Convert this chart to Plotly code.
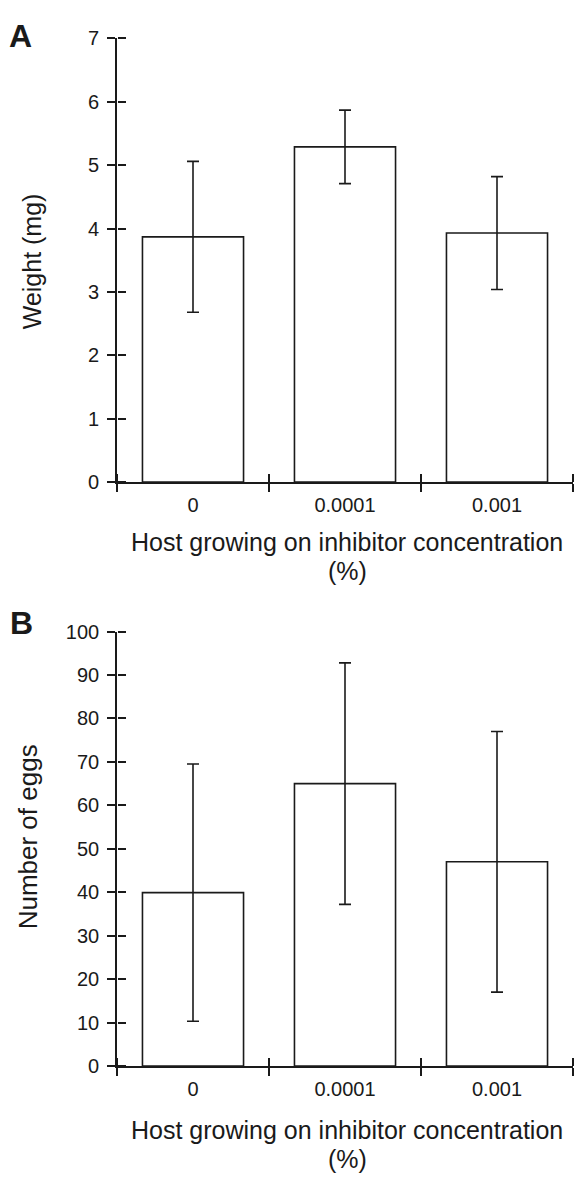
import plotly.graph_objects as go

# ---------------- data ----------------
categories = ["0", "0.0001", "0.001"]
weight_mean = [3.87, 5.29, 3.93]
weight_err = [1.19, 0.58, 0.89]
eggs_mean = [39.9, 65.0, 47.0]
eggs_err = [29.6, 27.8, 30.0]
weight_ticks = [0, 1, 2, 3, 4, 5, 6, 7]
eggs_ticks = [0, 10, 20, 30, 40, 50, 60, 70, 80, 90, 100]
x_title_line1 = "Host growing on inhibitor concentration"
x_title_line2 = "(%)"
ytitle_A = "Weight (mg)"
ytitle_B = "Number of eggs"

W, H = 578, 1184
FONT = "Liberation Sans, Arial, Helvetica, sans-serif"
INK = "#1a1a1a"


def fx(p):
    return p / W


def fy(p):
    return 1 - p / H


xdom = [fx(117), fx(573)]
ydomA = [fy(480), fy(28)]
ydomB = [fy(1075), fy(632.3)]

n_cat = len(categories)
cat_index = list(range(n_cat))
boundaries = [i - 0.5 for i in range(n_cat + 1)]

fig = go.Figure()

panels = [
    dict(mean=weight_mean, err=weight_err, ticks=weight_ticks, rng=[0, 7],
         x="x", y="y", xo="x3", yo="y3", ydom=ydomA),
    dict(mean=eggs_mean, err=eggs_err, ticks=eggs_ticks, rng=[0, 100],
         x="x2", y="y2", xo="x4", yo="y4", ydom=ydomB),
]

layout_axes = {}
for p in panels:
    fig.add_trace(go.Bar(
        x=categories, y=p["mean"], xaxis=p["x"], yaxis=p["y"],
        width=0.665,
        marker=dict(color="white", line=dict(color=INK, width=1.6)),
        error_y=dict(type="data", array=p["err"], visible=True,
                     color=INK, thickness=1.6, width=6),
        showlegend=False, hoverinfo="skip",
    ))
    # invisible trace on a twin subplot whose axes carry the inward half
    # of the crossing tick marks
    fig.add_trace(go.Scatter(
        x=cat_index, y=p["mean"], xaxis=p["xo"], yaxis=p["yo"],
        mode="markers", marker=dict(opacity=0), showlegend=False,
        hoverinfo="skip",
    ))

    xk = "xaxis" + p["x"][1:]
    yk = "yaxis" + p["y"][1:]
    xok = "xaxis" + p["xo"][1:]
    yok = "yaxis" + p["yo"][1:]

    layout_axes[xk] = dict(
        domain=xdom, anchor=p["y"], type="category",
        categoryorder="array", categoryarray=categories,
        range=[-0.5, n_cat - 0.5], showline=True, linecolor=INK,
        linewidth=1.6, ticks="outside", tickson="boundaries", ticklen=8,
        tickwidth=1.6, tickcolor=INK, showgrid=False, zeroline=False,
        tickfont=dict(family=FONT, size=20, color=INK),
        ticklabelstandoff=4, fixedrange=True,
    )
    layout_axes[yk] = dict(
        domain=p["ydom"], anchor=p["x"], range=p["rng"],
        tickmode="array", tickvals=p["ticks"],
        showline=True, linecolor=INK, linewidth=1.6,
        ticks="outside", ticklen=8, tickwidth=1.6, tickcolor=INK,
        showgrid=False, zeroline=False,
        tickfont=dict(family=FONT, size=20, color=INK),
        ticklabelstandoff=4, fixedrange=True,
    )
    # twin x axis sitting on the bottom line, ticks pointing up
    layout_axes[xok] = dict(
        domain=xdom, anchor="free", position=p["ydom"][0], side="top",
        type="linear", range=[-0.5, n_cat - 0.5],
        tickmode="array", tickvals=boundaries,
        showline=False, showticklabels=False,
        ticks="outside", ticklen=8, tickwidth=1.6, tickcolor=INK,
        showgrid=False, zeroline=False, fixedrange=True,
    )
    # twin y axis sitting on the left line, ticks pointing right
    layout_axes[yok] = dict(
        domain=p["ydom"], anchor="free", position=xdom[0], side="right",
        range=p["rng"], tickmode="array", tickvals=p["ticks"],
        showline=False, showticklabels=False,
        ticks="outside", ticklen=8, tickwidth=1.6, tickcolor=INK,
        showgrid=False, zeroline=False, fixedrange=True,
    )

annotations = [
    dict(text="<b>A</b>", x=fx(7), y=fy(25), xanchor="left", yanchor="middle",
         font=dict(family=FONT, size=32, color=INK)),
    dict(text="<b>B</b>", x=fx(8), y=fy(624), xanchor="left", yanchor="middle",
         font=dict(family=FONT, size=32, color=INK)),
    dict(text=ytitle_A, x=fx(32), y=fy(255), textangle=-90,
         xanchor="center", yanchor="middle",
         font=dict(family=FONT, size=25, color=INK)),
    dict(text=ytitle_B, x=fx(28), y=fy(842), textangle=-90,
         xanchor="center", yanchor="middle",
         font=dict(family=FONT, size=26, color=INK)),
    dict(text=x_title_line1, x=fx(347), y=fy(541), xanchor="center",
         yanchor="middle", font=dict(family=FONT, size=25, color=INK)),
    dict(text=x_title_line2, x=fx(347), y=fy(571), xanchor="center",
         yanchor="middle", font=dict(family=FONT, size=25, color=INK)),
    dict(text=x_title_line1, x=fx(347), y=fy(1140), xanchor="center",
         yanchor="middle", font=dict(family=FONT, size=25, color=INK)),
    dict(text=x_title_line2, x=fx(347), y=fy(1170), xanchor="center",
         yanchor="middle", font=dict(family=FONT, size=25, color=INK)),
]
for a in annotations:
    a.update(xref="paper", yref="paper", showarrow=False)

fig.update_layout(
    width=W, height=H,
    margin=dict(l=0, r=0, t=0, b=0),
    paper_bgcolor="white", plot_bgcolor="rgba(0,0,0,0)",
    annotations=annotations,
    **layout_axes,
)

fig.write_html(
    "out.html",
    post_script="document.body.style.margin='0';document.body.style.padding='0';",
)
